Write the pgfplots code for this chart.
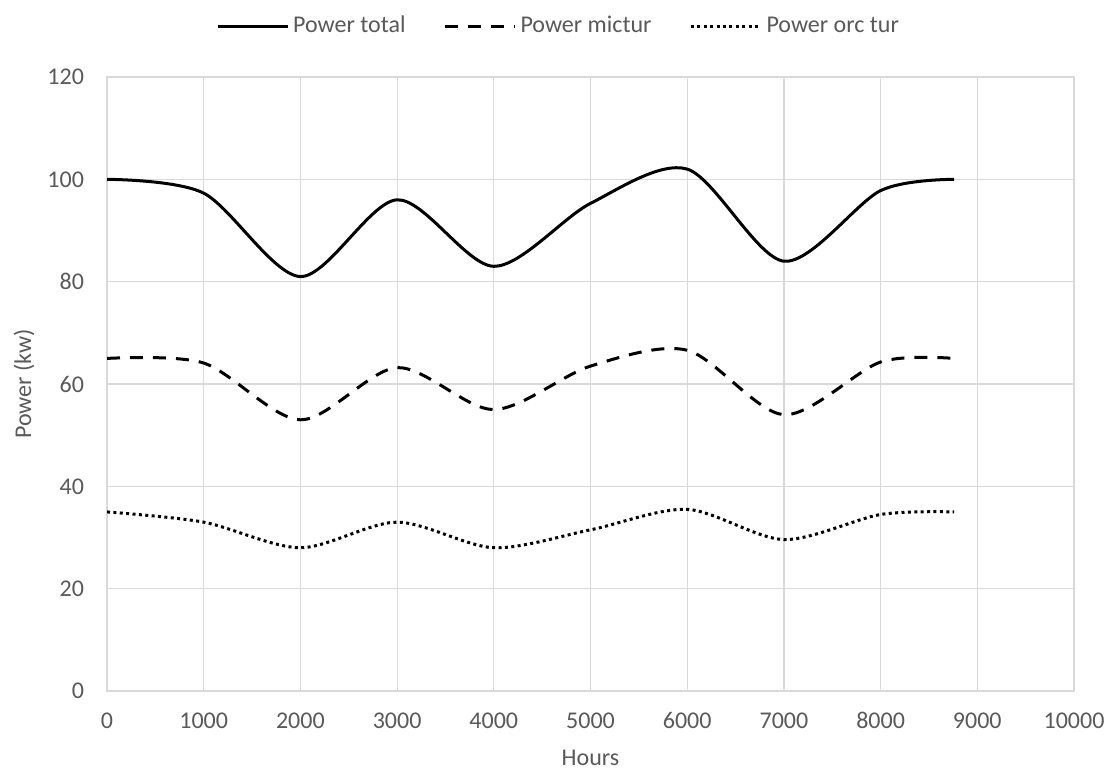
\documentclass[border=0pt]{standalone}
\usepackage{pgfplots}
\pgfplotsset{compat=1.18}
\usepackage{fontspec}
\setmainfont{Carlito}
\definecolor{gridc}{HTML}{D9D9D9}
\definecolor{txt}{HTML}{595959}
\begin{document}
\begin{tikzpicture}
\path[use as bounding box] (-53.5pt,-40pt) rectangle (500pt,345.5pt);
\begin{axis}[
  scale only axis, width=483.5pt, height=307pt,
  at={(0,0)}, anchor=south west,
  xmin=0, xmax=10000, ymin=0, ymax=120,
  xtick={0,1000,...,10000}, ytick={0,20,...,120},
  scaled x ticks=false,
  xticklabel style={yshift=-7pt, text height=8pt, text depth=0pt, /pgf/number format/set thousands separator={}, /pgf/number format/assume math mode=true},
  yticklabel style={xshift=-8pt, /pgf/number format/assume math mode=true},
  font=\fontsize{12}{14}\selectfont,
  tick label style={text=txt},
  label style={text=txt},
  grid=major, major grid style={gridc, line width=0.6pt},
  axis line style={gridc, line width=0.6pt},
  major tick length=0pt,
  xlabel={Hours}, ylabel={Power (kw)},
  xlabel style={at={(axis description cs:0.5,0)}, anchor=center, yshift=-33.5pt},
  ylabel style={at={(axis description cs:0,0.5)}, anchor=center, yshift=41.5pt},
  legend columns=3,
  legend style={draw=none, at={(0.468,1.083)}, anchor=center, font=\fontsize{12}{14}\selectfont, text=txt,
    /tikz/every even column/.append style={column sep=17pt}},
  legend cell align=left,
  legend image code/.code={\draw[#1] (0pt,0pt) -- (35pt,0pt);},
]
\addplot[black, line width=1.5pt, smooth] coordinates {
(0,100) (1000,97.3) (2000,81) (3000,96) (4000,83) (5000,95.3) (6000,102) (7000,84) (8000,97.8) (8760,100)};
\addlegendentry{Power total}
\addplot[black, line width=1.5pt, smooth, dash pattern=on 6.5pt off 5pt] coordinates {
(0,65) (1000,64.1) (2000,53) (3000,63.2) (4000,55) (5000,63.5) (6000,66.6) (7000,54) (8000,64.3) (8760,65)};
\addlegendentry{Power mictur}
\addplot[black, line width=1.5pt, smooth, dash pattern=on 1.5pt off 1.7pt] coordinates {
(0,35) (1000,33) (2000,28) (3000,33) (4000,28) (5000,31.5) (6000,35.5) (7000,29.6) (8000,34.5) (8760,35)};
\addlegendentry{Power orc tur}
\end{axis}
\end{tikzpicture}
\end{document}
